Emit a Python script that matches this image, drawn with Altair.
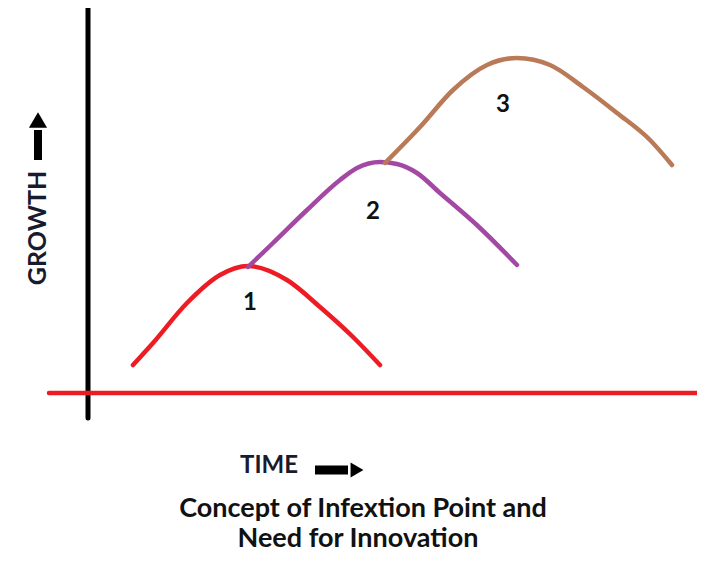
import altair as alt
import pandas as pd

# ---- data (in picture pixel coordinates) ----
curve1_x = [133, 153, 187, 220, 248, 287, 320, 353, 380]
curve1_y = [365, 343, 303, 275, 266, 280, 307, 337, 365]

curve2_x = [248, 273, 307, 340, 357, 380, 397, 417, 440, 480, 517]
curve2_y = [267, 243, 210, 180, 168, 162, 164, 173, 193, 228, 265]

curve3_x = [385, 420, 453, 487, 517, 550, 583, 617, 650, 672]
curve3_y = [163, 127, 90, 65, 58, 65, 87, 113, 140, 165]

curve_names = ["1", "2", "3"]
curve_colors = ["#ED1C24", "#A349A4", "#B97A57"]
label_x = [250, 373, 503]
label_y = [303, 212, 105]

axis_label_texts = ["GROWTH", "TIME"]
title_lines = ["Concept of Infextion Point and", "Need for Innovation"]

FONT = "Lato"

rows = []
for name, xs, ys in zip(curve_names, [curve1_x, curve2_x, curve3_x], [curve1_y, curve2_y, curve3_y]):
    for i, (x, y) in enumerate(zip(xs, ys)):
        rows.append({"curve": name, "order": i, "x": x, "y": y})
curves_df = pd.DataFrame(rows)
labels_df = pd.DataFrame({"curve": curve_names, "x": label_x, "y": label_y})

W, H = 689, 548
xs = alt.Scale(domain=[8, 8 + W], nice=False, zero=False)
ys = alt.Scale(domain=[8, 8 + H], nice=False, zero=False, reverse=True)
X = lambda f="x": alt.X(f"{f}:Q", scale=xs, axis=None)
Y = lambda f="y": alt.Y(f"{f}:Q", scale=ys, axis=None)

color_scale = alt.Scale(domain=curve_names, range=curve_colors)

curves = alt.Chart(curves_df).mark_line(strokeWidth=4.5, interpolate="monotone", strokeCap="round").encode(
    x=X(), y=Y(), color=alt.Color("curve:N", scale=color_scale, legend=None),
    detail="curve:N", order="order:Q")

labels = alt.Chart(labels_df).mark_text(font=FONT, fontWeight="bold", fontSize=24, color="#111111",
                                        baseline="middle", align="center").encode(
    x=X(), y=Y(), text="curve:N")

# axes lines
vaxis = alt.Chart(pd.DataFrame({"x": [88], "y": [8], "y2": [418]})).mark_rule(
    color="black", strokeWidth=5, strokeCap="round").encode(x=X(), y=Y(), y2="y2:Q")
haxis = alt.Chart(pd.DataFrame({"x": [49], "x2": [697], "y": [393]})).mark_rule(
    color="#ED1C24", strokeWidth=4.5, strokeCap="round").encode(x=X(), x2="x2:Q", y=Y())

# axis labels
growth = alt.Chart(pd.DataFrame({"x": [38], "y": [228], "t": [axis_label_texts[0]]})).mark_text(
    font=FONT, fontWeight="bold", fontSize=25, angle=270, color="#1a1a2e",
    baseline="middle", align="center").encode(x=X(), y=Y(), text="t:N")
time_t = alt.Chart(pd.DataFrame({"x": [269], "y": [466], "t": [axis_label_texts[1]]})).mark_text(
    font=FONT, fontWeight="bold", fontSize=24, color="#1a1a2e",
    baseline="middle", align="center").encode(x=X(), y=Y(), text="t:N")

# arrows
up_shaft = alt.Chart(pd.DataFrame({"x": [38], "y": [160], "y2": [130]})).mark_rule(
    color="black", strokeWidth=8).encode(x=X(), y=Y(), y2="y2:Q")
up_head = alt.Chart(pd.DataFrame({"x": [38], "y": [120]})).mark_point(
    shape="triangle-up", filled=True, color="black", size=330, opacity=1).encode(x=X(), y=Y())
rt_shaft = alt.Chart(pd.DataFrame({"x": [315], "x2": [348], "y": [470]})).mark_rule(
    color="black", strokeWidth=9).encode(x=X(), x2="x2:Q", y=Y())
rt_head = alt.Chart(pd.DataFrame({"x": [357], "y": [470]})).mark_point(
    shape="triangle-right", filled=True, color="black", size=220, opacity=1).encode(x=X(), y=Y())

title_df = pd.DataFrame({"x": [363, 358], "y": [509, 539], "t": title_lines})
title = alt.Chart(title_df).mark_text(font=FONT, fontWeight="bold", fontSize=27, color="#111111",
                                      baseline="middle", align="center").encode(x=X(), y=Y(), text="t:N")

chart = alt.layer(vaxis, haxis, curves, labels, growth, time_t, up_shaft, up_head, rt_shaft, rt_head, title).properties(
    width=W, height=H, autosize=alt.AutoSizeParams(type="none"), padding=0
).configure_view(stroke=None)

chart.save("out.html", embed_options={"renderer": "svg", "actions": False})
